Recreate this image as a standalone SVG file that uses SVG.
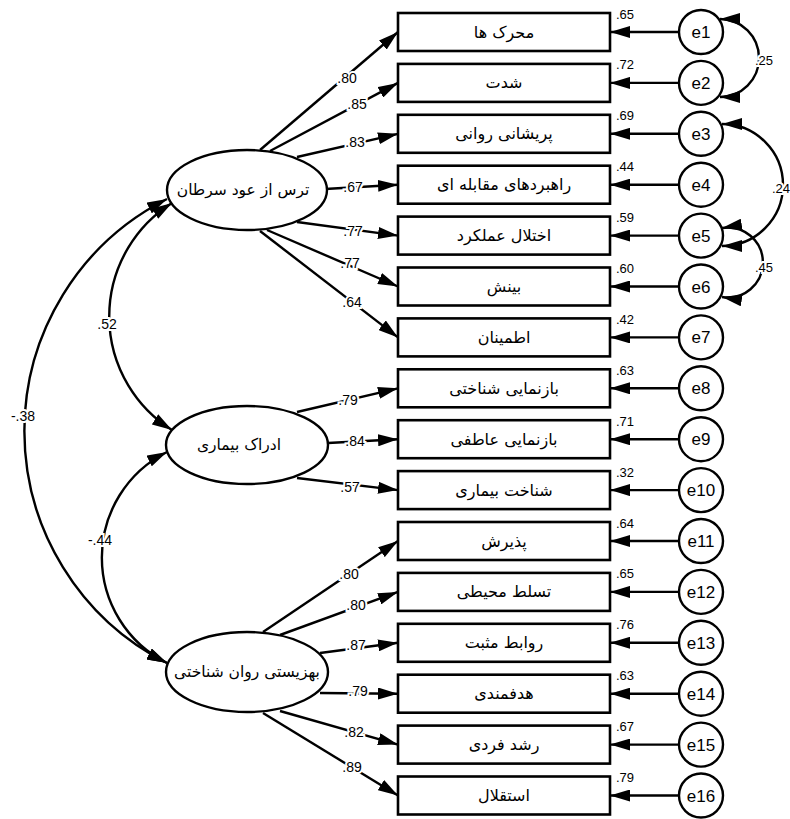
<svg xmlns="http://www.w3.org/2000/svg" width="790" height="819" viewBox="0 0 790 819">
<style>
.box{fill:#fff;stroke:#000;stroke-width:2.6}
.lat{fill:#fff;stroke:#000;stroke-width:2.4}
.err{fill:#fff;stroke:#000;stroke-width:2.4}
.ln{fill:none;stroke:#000;stroke-width:2.4;marker-end:url(#ah)}
.cv{fill:none;stroke:#000;stroke-width:2.4;marker-start:url(#ah);marker-end:url(#ah)}
.fa{font-family:"DejaVu Sans",sans-serif;font-size:16px;text-anchor:middle;fill:#000}
.fl{font-family:"DejaVu Sans",sans-serif;font-size:15.5px;text-anchor:middle;fill:#000}
.en{font-family:"Liberation Sans",Arial,sans-serif;font-size:17px;text-anchor:middle;fill:#000}
.nv{font-family:"Liberation Sans",Arial,sans-serif;font-size:13px;text-anchor:start;fill:#000}
.nl{font-family:"Liberation Sans",Arial,sans-serif;font-size:14px;text-anchor:middle;fill:#000;stroke:#fff;stroke-width:4;paint-order:stroke}
.nc{font-family:"Liberation Sans",Arial,sans-serif;font-size:13px;text-anchor:middle;fill:#000;stroke:#fff;stroke-width:4;paint-order:stroke}
</style>
<defs>
<marker id="ah" viewBox="0 0 20 12" refX="20" refY="6" markerWidth="20" markerHeight="12" markerUnits="userSpaceOnUse" orient="auto-start-reverse"><path d="M0,0 L20,6 L0,12 z" fill="#000"/></marker>
</defs>
<rect width="790" height="819" fill="#fff"/>
<g id="connectors">
<path class="ln" d="M260,150 L398,32"/>
<path class="ln" d="M270,151 L398,82.9"/>
<path class="ln" d="M297,157 L398,133.8"/>
<path class="ln" d="M325,189 L398,184.7"/>
<path class="ln" d="M297,222 L398,235.6"/>
<path class="ln" d="M267,230 L398,286.5"/>
<path class="ln" d="M260,231 L398,337.4"/>
<path class="ln" d="M297,412 L398,388.3"/>
<path class="ln" d="M328,443 L398,439.2"/>
<path class="ln" d="M297,478 L398,490.1"/>
<path class="ln" d="M263,632 L398,541"/>
<path class="ln" d="M280,635 L398,591.9"/>
<path class="ln" d="M320,653 L398,642.8"/>
<path class="ln" d="M320,693 L398,693.7"/>
<path class="ln" d="M280,711 L398,744.6"/>
<path class="ln" d="M263,713 L398,795.5"/>
<path class="ln" d="M679,32 L610,32"/>
<path class="ln" d="M679,82.9 L610,82.9"/>
<path class="ln" d="M679,133.8 L610,133.8"/>
<path class="ln" d="M679,184.7 L610,184.7"/>
<path class="ln" d="M679,235.6 L610,235.6"/>
<path class="ln" d="M679,286.5 L610,286.5"/>
<path class="ln" d="M679,337.4 L610,337.4"/>
<path class="ln" d="M679,388.3 L610,388.3"/>
<path class="ln" d="M679,439.2 L610,439.2"/>
<path class="ln" d="M679,490.1 L610,490.1"/>
<path class="ln" d="M679,541 L610,541"/>
<path class="ln" d="M679,591.9 L610,591.9"/>
<path class="ln" d="M679,642.8 L610,642.8"/>
<path class="ln" d="M679,693.7 L610,693.7"/>
<path class="ln" d="M679,744.6 L610,744.6"/>
<path class="ln" d="M679,795.5 L610,795.5"/>
<path class="cv" d="M172,203 A134,134 0 0 0 172,430"/>
<path class="cv" d="M167,199 A260,260 0 0 0 167,663"/>
<path class="cv" d="M167,452 A118,118 0 0 0 167,663"/>
<path class="cv" d="M720,19 A39,39 0 0 1 720,97"/>
<path class="cv" d="M722,124 A61,61 0 0 1 722,246"/>
<path class="cv" d="M722,228 A35,35 0 1 1 722,297"/>
<text class="nl" x="347" y="83">.80</text>
<text class="nl" x="357" y="109">.85</text>
<text class="nl" x="355" y="147">.83</text>
<text class="nl" x="353" y="192">.67</text>
<text class="nl" x="353" y="236">.77</text>
<text class="nl" x="350" y="268">.77</text>
<text class="nl" x="352" y="307">.64</text>
<text class="nl" x="348" y="405">.79</text>
<text class="nl" x="355" y="446">.84</text>
<text class="nl" x="350" y="492">.57</text>
<text class="nl" x="349" y="579">.80</text>
<text class="nl" x="356" y="610">.80</text>
<text class="nl" x="356" y="650">.87</text>
<text class="nl" x="358" y="696">.79</text>
<text class="nl" x="354" y="737">.82</text>
<text class="nl" x="352" y="772">.89</text>
<text class="nl" x="107" y="329">.52</text>
<text class="nl" x="23" y="421">-.38</text>
<text class="nl" x="100" y="545">-.44</text>
<text class="nc" x="764" y="65">.25</text>
<text class="nc" x="781" y="193">.24</text>
<text class="nc" x="764" y="272">.45</text>
</g>
<g id="L1"><ellipse class="lat" cx="247" cy="190" rx="80" ry="40"/><text class="fl" x="243" y="195">ترس از عود سرطان</text></g>
<g id="L2"><ellipse class="lat" cx="247" cy="445" rx="81" ry="39"/><text class="fl" x="239" y="450">ادراک بیماری</text></g>
<g id="L3"><ellipse class="lat" cx="247" cy="672" rx="81" ry="40"/><text class="fl" x="247" y="677">بهزیستی روان شناختی</text></g>
<g id="v1"><rect class="box" x="398" y="13" width="212" height="38"/><text class="fa" x="504" y="37.5">محرک ها</text><text class="nv" x="616" y="18.5">.65</text></g>
<g id="v2"><rect class="box" x="398" y="63.9" width="212" height="38"/><text class="fa" x="504" y="88.4">شدت</text><text class="nv" x="616" y="69.4">.72</text></g>
<g id="v3"><rect class="box" x="398" y="114.8" width="212" height="38"/><text class="fa" x="504" y="139.3">پریشانی روانی</text><text class="nv" x="616" y="120.3">.69</text></g>
<g id="v4"><rect class="box" x="398" y="165.7" width="212" height="38"/><text class="fa" x="504" y="190.2">راهبردهای مقابله ای</text><text class="nv" x="616" y="171.2">.44</text></g>
<g id="v5"><rect class="box" x="398" y="216.6" width="212" height="38"/><text class="fa" x="504" y="241.1">اختلال عملکرد</text><text class="nv" x="616" y="222.1">.59</text></g>
<g id="v6"><rect class="box" x="398" y="267.5" width="212" height="38"/><text class="fa" x="504" y="292">بینش</text><text class="nv" x="616" y="273">.60</text></g>
<g id="v7"><rect class="box" x="398" y="318.4" width="212" height="38"/><text class="fa" x="504" y="342.9">اطمینان</text><text class="nv" x="616" y="323.9">.42</text></g>
<g id="v8"><rect class="box" x="398" y="369.3" width="212" height="38"/><text class="fa" x="504" y="393.8">بازنمایی شناختی</text><text class="nv" x="616" y="374.8">.63</text></g>
<g id="v9"><rect class="box" x="398" y="420.2" width="212" height="38"/><text class="fa" x="504" y="444.7">بازنمایی عاطفی</text><text class="nv" x="616" y="425.7">.71</text></g>
<g id="v10"><rect class="box" x="398" y="471.1" width="212" height="38"/><text class="fa" x="504" y="495.6">شناخت بیماری</text><text class="nv" x="616" y="476.6">.32</text></g>
<g id="v11"><rect class="box" x="398" y="522" width="212" height="38"/><text class="fa" x="504" y="546.5">پذیرش</text><text class="nv" x="616" y="527.5">.64</text></g>
<g id="v12"><rect class="box" x="398" y="572.9" width="212" height="38"/><text class="fa" x="504" y="597.4">تسلط محیطی</text><text class="nv" x="616" y="578.4">.65</text></g>
<g id="v13"><rect class="box" x="398" y="623.8" width="212" height="38"/><text class="fa" x="504" y="648.3">روابط مثبت</text><text class="nv" x="616" y="629.3">.76</text></g>
<g id="v14"><rect class="box" x="398" y="674.7" width="212" height="38"/><text class="fa" x="504" y="699.2">هدفمندی</text><text class="nv" x="616" y="680.2">.63</text></g>
<g id="v15"><rect class="box" x="398" y="725.6" width="212" height="38"/><text class="fa" x="504" y="750.1">رشد فردی</text><text class="nv" x="616" y="731.1">.67</text></g>
<g id="v16"><rect class="box" x="398" y="776.5" width="212" height="38"/><text class="fa" x="504" y="801">استقلال</text><text class="nv" x="616" y="782">.79</text></g>
<g id="e1"><circle class="err" cx="701" cy="32" r="22"/><text class="en" x="701" y="38">e1</text></g>
<g id="e2"><circle class="err" cx="701" cy="82.9" r="22"/><text class="en" x="701" y="88.9">e2</text></g>
<g id="e3"><circle class="err" cx="701" cy="133.8" r="22"/><text class="en" x="701" y="139.8">e3</text></g>
<g id="e4"><circle class="err" cx="701" cy="184.7" r="22"/><text class="en" x="701" y="190.7">e4</text></g>
<g id="e5"><circle class="err" cx="701" cy="235.6" r="22"/><text class="en" x="701" y="241.6">e5</text></g>
<g id="e6"><circle class="err" cx="701" cy="286.5" r="22"/><text class="en" x="701" y="292.5">e6</text></g>
<g id="e7"><circle class="err" cx="701" cy="337.4" r="22"/><text class="en" x="701" y="343.4">e7</text></g>
<g id="e8"><circle class="err" cx="701" cy="388.3" r="22"/><text class="en" x="701" y="394.3">e8</text></g>
<g id="e9"><circle class="err" cx="701" cy="439.2" r="22"/><text class="en" x="701" y="445.2">e9</text></g>
<g id="e10"><circle class="err" cx="701" cy="490.1" r="22"/><text class="en" x="701" y="496.1">e10</text></g>
<g id="e11"><circle class="err" cx="701" cy="541" r="22"/><text class="en" x="701" y="547">e11</text></g>
<g id="e12"><circle class="err" cx="701" cy="591.9" r="22"/><text class="en" x="701" y="597.9">e12</text></g>
<g id="e13"><circle class="err" cx="701" cy="642.8" r="22"/><text class="en" x="701" y="648.8">e13</text></g>
<g id="e14"><circle class="err" cx="701" cy="693.7" r="22"/><text class="en" x="701" y="699.7">e14</text></g>
<g id="e15"><circle class="err" cx="701" cy="744.6" r="22"/><text class="en" x="701" y="750.6">e15</text></g>
<g id="e16"><circle class="err" cx="701" cy="795.5" r="22"/><text class="en" x="701" y="801.5">e16</text></g>
</svg>
